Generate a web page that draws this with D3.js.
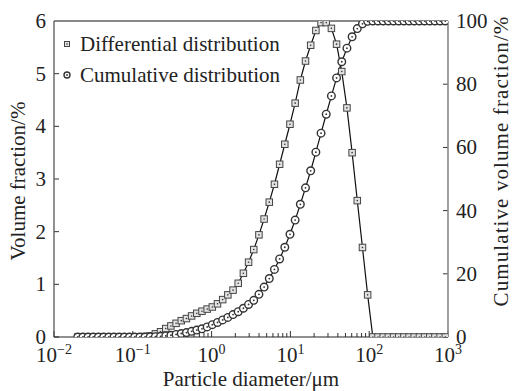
<!DOCTYPE html>
<html><head><meta charset="utf-8">
<script src="https://cdn.jsdelivr.net/npm/d3@7/dist/d3.min.js"></script>
<style>body{margin:0;background:#fff}svg{display:block}</style>
</head><body><svg id="c" width="514" height="391"></svg>
<script>
const sizes = [0.0200,0.02327,0.02707,0.03149,0.03663,0.04262,0.04958,0.05768,0.06710,0.07806,
0.0908,0.1056,0.1229,0.1429,0.1663,0.1934,0.2250,0.2618,0.3045,0.3542,
0.4121,0.4794,0.5577,0.6488,0.7548,0.8781,1.021,1.188,1.382,1.608,
1.871,2.176,2.532,2.945,3.426,3.986,4.637,5.394,6.275,7.300,
8.492,9.879,11.49,13.37,15.55,18.09,21.05,24.49,28.49,33.14,
38.55,44.85,52.17,60.69,70.61,82.14,95.55,111.2,129.3,150.4,
175.0,203.6,236.8,275.5,320.5,372.8,433.7,504.5,586.9,682.8,
794.3,924.0];
const differential = [0,0,0,0,0,0,0,0,0,0,
0,0,0,0.01,0.02,0.06,0.10,0.16,0.21,0.26,
0.31,0.35,0.40,0.45,0.49,0.53,0.57,0.63,0.71,0.80,
0.89,1.02,1.21,1.42,1.66,1.94,2.24,2.56,2.90,3.28,
3.66,4.04,4.44,4.88,5.24,5.54,5.82,5.97,5.97,5.86,
5.56,5.04,4.35,3.50,2.59,1.70,0.80,0,0,0,
0,0,0,0,0,0,0,0,0,0,
0,0];
const cumulative = [0,0,0,0,0,0,0,0,0,0,
0,0,0,0,0.05,0.1,0.2,0.35,0.55,0.8,
1.1,1.4,1.8,2.2,2.6,3.2,3.9,4.6,5.4,6.2,
7.1,8.0,9.1,10.3,11.6,13.5,15.8,18.5,21.4,24.7,
28.4,32.5,37.0,42.0,47.2,52.6,58.5,64.5,70.5,76.3,
82.0,87.1,91.4,95.0,97.6,99.1,99.9,100,100,100,
100,100,100,100,100,100,100,100,100,100,
100,100];
const xTickValues = [0.01,0.1,1,10,100,1000];
const xTickExponents = ["\u22122","\u22121","0","1","2","3"];
const yLeftTicks = [0,1,2,3,4,5,6];
const yRightTicks = [0,20,40,60,80,100];
const legendLabels = ["Differential distribution","Cumulative distribution"];
const xTitle = "Particle diameter/\u03bcm";
const yLeftTitle = "Volume fraction/%";
const yRightTitle = "Cumulative volume fraction/%";

const L=54,R=448,T=21,B=337;
const FONT="'Liberation Serif', 'DejaVu Serif', serif";
const svg=d3.select("#c").attr("font-family",FONT).attr("fill","#222");
const x=d3.scaleLog().domain([0.01,1000]).range([L,R]);
const yL=d3.scaleLinear().domain([0,6]).range([B,T]);
const yR=d3.scaleLinear().domain([0,100]).range([B,T]);
const FS=21;

svg.append("defs").append("clipPath").attr("id","clip").append("rect")
  .attr("x",L).attr("y",T).attr("width",R-L).attr("height",B-T);

// minor ticks bottom
const minor=[];
for(let d=-2;d<3;d++)for(let k=2;k<10;k++)minor.push(k*Math.pow(10,d));
svg.append("g").selectAll("line").data(minor).join("line")
  .attr("x1",d=>x(d)).attr("x2",d=>x(d)).attr("y1",B).attr("y2",B-4)
  .attr("stroke","#333").attr("stroke-width",1);
svg.append("g").selectAll("line").data(xTickValues).join("line")
  .attr("x1",d=>x(d)).attr("x2",d=>x(d)).attr("y1",B).attr("y2",B-6)
  .attr("stroke","#333").attr("stroke-width",1);

// left ticks
svg.append("g").selectAll("line").data(yLeftTicks).join("line")
  .attr("x1",L).attr("x2",L+5).attr("y1",d=>yL(d)).attr("y2",d=>yL(d))
  .attr("stroke","#333").attr("stroke-width",1);
// right ticks
svg.append("g").selectAll("line").data(yRightTicks).join("line")
  .attr("x1",R).attr("x2",R-5).attr("y1",d=>yR(d)).attr("y2",d=>yR(d))
  .attr("stroke","#333").attr("stroke-width",1);

// frame
svg.append("line").attr("x1",L).attr("x2",R).attr("y1",T).attr("y2",T).attr("stroke","#888").attr("stroke-width",2);
svg.append("line").attr("x1",R).attr("x2",R).attr("y1",T).attr("y2",B).attr("stroke","#888").attr("stroke-width",1.6);
svg.append("line").attr("x1",L).attr("x2",L).attr("y1",T).attr("y2",B).attr("stroke","#555").attr("stroke-width",1.3);
svg.append("line").attr("x1",L).attr("x2",R).attr("y1",B).attr("y2",B).attr("stroke","#222").attr("stroke-width",1.2);

// tick labels
svg.append("g").selectAll("text").data(yLeftTicks).join("text")
  .attr("x",L-8).attr("y",d=>yL(d)).attr("dy","0.33em").attr("text-anchor","end")
  .attr("font-size",FS).text(d=>d);
svg.append("g").selectAll("text").data(yRightTicks).join("text")
  .attr("x",R+8).attr("y",d=>yR(d)).attr("dy","0.33em").attr("text-anchor","start")
  .attr("font-size",FS).text(d=>d);
const xl=svg.append("g").selectAll("text").data(xTickValues).join("text")
  .attr("x",d=>x(d)).attr("y",B+25).attr("text-anchor","middle").attr("font-size",FS);
xl.append("tspan").text("10");
xl.append("tspan").attr("dy",-8).attr("font-size",14).text((d,i)=>xTickExponents[i]);

// titles
svg.append("text").attr("x",(L+R)/2).attr("y",386).attr("text-anchor","middle").attr("font-size",FS).text(xTitle);
svg.append("text").attr("transform","translate(25,181) rotate(-90)").attr("text-anchor","middle").attr("font-size",FS).text(yLeftTitle);
svg.append("text").attr("transform","translate(508,161) rotate(-90)").attr("text-anchor","middle").attr("font-size",FS)
  .attr("letter-spacing",1.1).text(yRightTitle);

// data
const pts1=sizes.map((s,i)=>({s,v:differential[i]}));
const pts2=sizes.map((s,i)=>({s,v:cumulative[i]}));
const g=svg.append("g").attr("clip-path","url(#clip)");
g.append("path").datum(pts1).attr("fill","none").attr("stroke","#111").attr("stroke-width",1.2)
  .attr("d",d3.line().x(d=>x(d.s)).y(d=>yL(d.v)));
g.append("path").datum(pts2).attr("fill","none").attr("stroke","#111").attr("stroke-width",1.2)
  .attr("d",d3.line().x(d=>x(d.s)).y(d=>yR(d.v)));

function square(sel,cx,cy,s){
  sel.append("rect").attr("x",cx-s/2).attr("y",cy-s/2).attr("width",s).attr("height",s)
    .attr("fill","#e2e2e2").attr("stroke","#444").attr("stroke-width",1);
  sel.append("circle").attr("cx",cx).attr("cy",cy).attr("r",0.8).attr("fill","#333");
}
function ring(sel,cx,cy,r){
  sel.append("circle").attr("cx",cx).attr("cy",cy).attr("r",r)
    .attr("fill","#fff").attr("stroke","#333").attr("stroke-width",1.4);
  sel.append("circle").attr("cx",cx).attr("cy",cy).attr("r",0.9).attr("fill","#333");
}
const m1=g.append("g"); pts1.forEach(d=>square(m1,x(d.s),yL(d.v),6.5));
const m2=g.append("g"); pts2.forEach(d=>ring(m2,x(d.s),yR(d.v),3.8));

// legend
const lg=svg.append("g");
square(lg,67,44,5);
ring(lg,67,75,3);
lg.selectAll("text").data(legendLabels).join("text")
  .attr("x",80).attr("y",(d,i)=>51+i*31).attr("font-size",FS).attr("fill","#222").text(d=>d);
</script></body></html>
